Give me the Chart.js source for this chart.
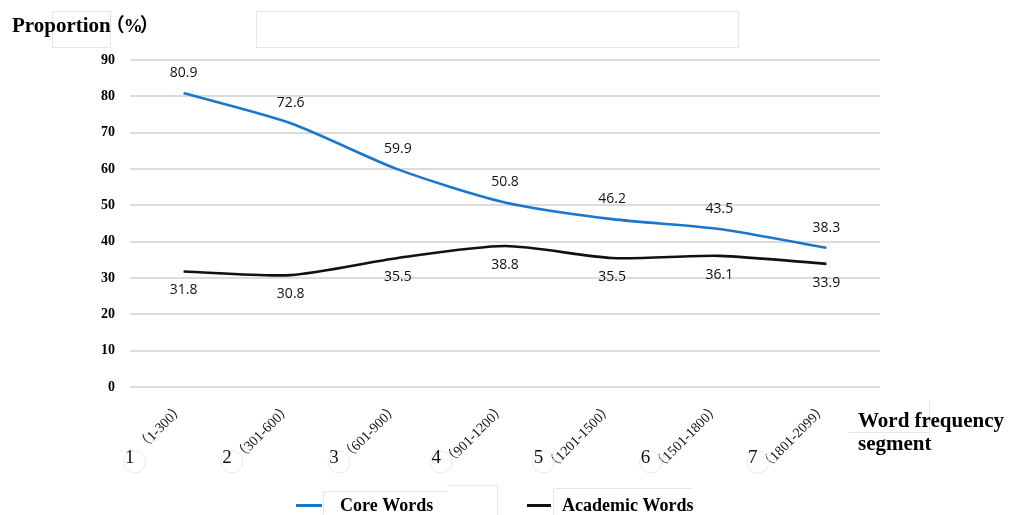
<!DOCTYPE html>
<html>
<head>
<meta charset="utf-8">
<script src="https://cdn.jsdelivr.net/npm/chart.js@4"></script>
<style>
  html, body { margin: 0; padding: 0; background: #ffffff; }
  #wrap { width: 1009px; height: 515px; }
</style>
</head>
<body>
<div id="wrap"><canvas id="chart" width="1009" height="515"></canvas></div>
<script>
// Word frequency segments (number + range) and the two proportion series
const segNumbers = ['1', '2', '3', '4', '5', '6', '7'];
const segRanges = ['（1-300）', '（301-600）', '（601-900）', '（901-1200）', '（1201-1500）', '（1501-1800）', '（1801-2099）'];
const coreWords = [80.9, 72.6, 59.9, 50.8, 46.2, 43.5, 38.3];
const academicWords = [31.8, 30.8, 35.5, 38.8, 35.5, 36.1, 33.9];
const yMin = 0, yMax = 90, yStep = 10;

const yTitleWord = 'Proportion';
const yTitleUnit = ['（', '%', '）'];
const xTitle = ['Word frequency', 'segment'];
const seriesNames = ['Core Words', 'Academic Words'];
const seriesColors = ['#1b77cc', '#111111'];

const SERIF = "'Liberation Serif', 'Times New Roman', 'Noto Sans CJK SC', serif";
const SANS = "'Open Sans', 'Noto Sans', sans-serif";

// faint frame lines from the original layout boxes
function faintFrames(ctx) {
  ctx.save();
  ctx.strokeStyle = '#e6e6e6';
  ctx.lineWidth = 1;
  ctx.strokeRect(52.5, 11.5, 58, 36);
  ctx.strokeRect(256.5, 11.5, 482, 36);
  ctx.beginPath();
  ctx.moveTo(929.5, 400); ctx.lineTo(929.5, 432.5); ctx.lineTo(848, 432.5);
  ctx.moveTo(323.5, 515); ctx.lineTo(323.5, 491.5); ctx.lineTo(447.5, 491.5);
  ctx.moveTo(447.5, 485.5); ctx.lineTo(497.5, 485.5); ctx.lineTo(497.5, 515);
  ctx.moveTo(553.5, 515); ctx.lineTo(553.5, 488.5); ctx.lineTo(692.5, 488.5);
  ctx.stroke();
  ctx.restore();
}

const decorPlugin = {
  id: 'decor',
  beforeDraw(chart) {
    faintFrames(chart.ctx);
  },
  afterDatasetsDraw(chart) {
    const ctx = chart.ctx;
    ctx.save();
    ctx.font = '14px ' + SANS;
    ctx.fillStyle = '#111111';
    ctx.textAlign = 'center';
    ctx.textBaseline = 'middle';
    chart.getDatasetMeta(0).data.forEach((pt, i) => {
      ctx.fillText(coreWords[i].toFixed(1), pt.x, pt.y - 20);
    });
    chart.getDatasetMeta(1).data.forEach((pt, i) => {
      ctx.fillText(academicWords[i].toFixed(1), pt.x, pt.y + 19);
    });
    ctx.restore();
  },
  afterDraw(chart) {
    const ctx = chart.ctx;
    const xs = chart.scales.x;
    const area = chart.chartArea;
    ctx.save();
    // category labels: rotated range text with the segment number below-left
    segRanges.forEach((txt, i) => {
      const tx = xs.getPixelForValue(i) - 1;
      const ty = area.bottom + 19;
      ctx.save();
      ctx.font = '14px ' + SERIF;
      const w = ctx.measureText(txt).width;
      ctx.translate(tx, ty);
      ctx.rotate(-Math.PI / 4);
      ctx.fillStyle = '#111';
      ctx.textAlign = 'right';
      ctx.textBaseline = 'middle';
      ctx.fillText(txt, 0, 0);
      ctx.restore();
      const sx = tx - w * Math.SQRT1_2 - 10;
      const sy = area.bottom + 71;
      ctx.strokeStyle = '#e8e8e8';
      ctx.lineWidth = 1;
      ctx.beginPath();
      ctx.arc(sx + 5, sy + 4, 11, 0, Math.PI * 2);
      ctx.stroke();
      ctx.font = '19px ' + SERIF;
      ctx.fillStyle = '#111';
      ctx.textAlign = 'center';
      ctx.textBaseline = 'middle';
      ctx.fillText(segNumbers[i], sx, sy);
    });

    // y axis title: word, then a compact unit in brackets
    ctx.fillStyle = '#000';
    ctx.textAlign = 'left';
    ctx.textBaseline = 'alphabetic';
    ctx.font = 'bold 21px ' + SERIF;
    ctx.fillText(yTitleWord, 12, 32);
    const px = 12 + ctx.measureText(yTitleWord).width;
    ctx.font = 'bold 19px ' + SERIF;
    ctx.fillText(yTitleUnit[0], px - 5, 32);
    ctx.fillText(yTitleUnit[1], px + 13, 32);
    ctx.fillText(yTitleUnit[2], px + 29, 32);

    // x axis title (two lines)
    ctx.font = 'bold 21px ' + SERIF;
    ctx.fillText(xTitle[0], 858, 427);
    ctx.fillText(xTitle[1], 858, 450);

    // legend
    const legend = [
      { x1: 296, x2: 322, tx: 340 },
      { x1: 527, x2: 551, tx: 562 }
    ];
    legend.forEach((l, i) => {
      ctx.strokeStyle = seriesColors[i];
      ctx.lineWidth = 3;
      ctx.beginPath();
      ctx.moveTo(l.x1, 505.5);
      ctx.lineTo(l.x2, 505.5);
      ctx.stroke();
      ctx.font = 'bold 18px ' + SERIF;
      ctx.fillStyle = '#000';
      ctx.textBaseline = 'alphabetic';
      ctx.fillText(seriesNames[i], l.tx, 511);
    });
    ctx.restore();
  }
};

new Chart(document.getElementById('chart'), {
  type: 'line',
  data: {
    labels: segRanges,
    datasets: [
      {
        label: seriesNames[0],
        data: coreWords,
        borderColor: seriesColors[0],
        borderWidth: 2.6,
        pointRadius: 0,
        tension: 0.25,
        fill: false
      },
      {
        label: seriesNames[1],
        data: academicWords,
        borderColor: seriesColors[1],
        borderWidth: 2.6,
        pointRadius: 0,
        tension: 0.25,
        fill: false
      }
    ]
  },
  options: {
    responsive: false,
    animation: false,
    devicePixelRatio: 1,
    layout: { padding: { left: 0, right: 129, top: 60, bottom: 0 } },
    plugins: {
      legend: { display: false },
      tooltip: { enabled: false }
    },
    scales: {
      x: {
        offset: true,
        grid: { display: false, drawTicks: false },
        border: { display: false },
        ticks: { display: false },
        afterFit(scale) { scale.height = 128; }
      },
      y: {
        min: yMin,
        max: yMax,
        ticks: {
          stepSize: yStep,
          padding: 15,
          color: '#000',
          font: { family: SERIF, size: 14, weight: 'bold' }
        },
        grid: { color: '#dcdcdc', lineWidth: 2, drawTicks: false },
        border: { display: false },
        afterFit(scale) { scale.width = 130; }
      }
    }
  },
  plugins: [decorPlugin]
});
</script>
</body>
</html>
